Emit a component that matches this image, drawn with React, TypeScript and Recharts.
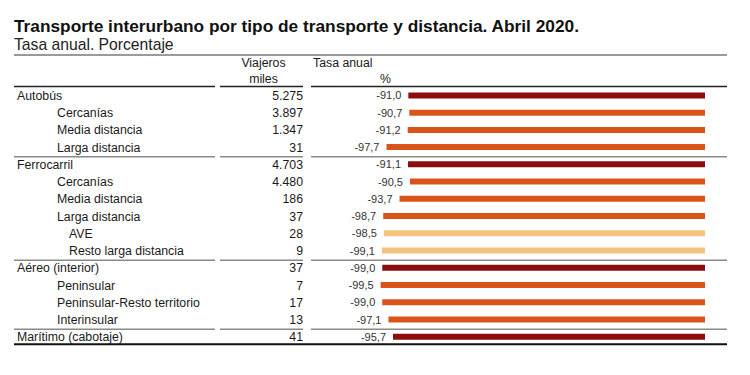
import React from 'react';
import { BarChart, Bar, XAxis, YAxis, Cell, LabelList } from 'recharts';

const title = 'Transporte interurbano por tipo de transporte y distancia. Abril 2020.';
const subtitle = 'Tasa anual. Porcentaje';
const headerViajeros = ['Viajeros', 'miles'];
const headerTasa = ['Tasa anual', '%'];

const categories = [
  'Autobús', 'Cercanías', 'Media distancia', 'Larga distancia',
  'Ferrocarril', 'Cercanías', 'Media distancia', 'Larga distancia', 'AVE', 'Resto larga distancia',
  'Aéreo (interior)', 'Peninsular', 'Peninsular-Resto territorio', 'Interinsular',
  'Marítimo (cabotaje)',
];
const levels = [0, 1, 1, 1, 0, 1, 1, 1, 2, 2, 0, 1, 1, 1, 0];
const viajeros = ['5.275', '3.897', '1.347', '31', '4.703', '4.480', '186', '37', '28', '9', '37', '7', '17', '13', '41'];
const tasaAnual = [-91.0, -90.7, -91.2, -97.7, -91.1, -90.5, -93.7, -98.7, -98.5, -99.1, -99.0, -99.5, -99.0, -97.1, -95.7];

const data = categories.map((c, i) => ({ id: String(i), name: c, value: tasaAnual[i] }));

const FONT = '"Liberation Sans", Arial, sans-serif';
const levelColors = ['#8C0D0D', '#DA5419', '#F6C27F'];
const levelX = [17, 57, 69];
const TEXT = '#1a1a1a';

const segs = [[14, 215], [220, 303], [311, 727]];

const RowLabel = (props: any) => {
  const { y, height, index } = props;
  const i = Number(index);
  const cy = Number(y) + Number(height) / 2;
  const lvl = levels[i];
  const isLast = i === categories.length - 1;
  return (
    <g>
      {i > 0 && lvl === 0 &&
        segs.map((s, k) => (
          <line key={k} x1={s[0]} x2={s[1]} y1={cy - 7.5} y2={cy - 7.5} stroke="#8a8a8a" strokeWidth={1.5} />
        ))}
      {isLast && <line x1={14} x2={727} y1={cy + 7.5} y2={cy + 7.5} stroke="#111" strokeWidth={2} />}
      <text x={levelX[lvl]} y={cy + 4.5} fontFamily={FONT} fontSize={12.3} fill={TEXT}>
        {categories[i]}
      </text>
      <text x={303} y={cy + 4.5} fontFamily={FONT} fontSize={12.3} fill={TEXT} textAnchor="end">
        {viajeros[i]}
      </text>
    </g>
  );
};

const ValueLabel = (props: any) => {
  const { x, y, width, height, value } = props;
  const left = Math.min(Number(x), Number(x) + Number(width));
  const cy = Number(y) + Number(height) / 2;
  return (
    <text x={left - 7} y={cy + 4} fontFamily={FONT} fontSize={11} fill="#333" textAnchor="end">
      {Number(value).toFixed(1).replace('.', ',')}
    </text>
  );
};

export default function App() {
  return (
    <div style={{ position: 'absolute', left: 0, top: 0, width: 750, height: 375, background: '#fff' }}>
      <svg width={750} height={375} style={{ position: 'absolute', left: 0, top: 0 }}>
        <text x={14} y={31.5} fontFamily={FONT} fontSize={17.3} fontWeight="bold" fill="#111">{title}</text>
        <text x={14} y={50} fontFamily={FONT} fontSize={15.7} fill="#222">{subtitle}</text>
        <line x1={14} x2={727} y1={55} y2={55} stroke="#9a9a9a" strokeWidth={2} />
        <text x={263.5} y={67} fontFamily={FONT} fontSize={12.3} fill={TEXT} textAnchor="middle">{headerViajeros[0]}</text>
        <text x={263.5} y={82.5} fontFamily={FONT} fontSize={12.3} fill={TEXT} textAnchor="middle">{headerViajeros[1]}</text>
        <text x={313} y={67} fontFamily={FONT} fontSize={12.3} fill={TEXT}>{headerTasa[0]}</text>
        <text x={385.5} y={82.5} fontFamily={FONT} fontSize={12.3} fill={TEXT} textAnchor="middle">{headerTasa[1]}</text>
        {segs.map((s, k) => (
          <line key={k} x1={s[0]} x2={s[1]} y1={86.4} y2={86.4} stroke="#222" strokeWidth={1.5} />
        ))}
      </svg>
      <div style={{ position: 'absolute', left: 0, top: 0 }}>
        <BarChart
          width={750}
          height={375}
          data={data}
          layout="vertical"
          margin={{ top: 86.4, bottom: 30, left: 379, right: 45 }}
          barCategoryGap={0}
        >
          <XAxis type="number" domain={[-100, 0]} hide allowDataOverflow />
          <YAxis type="category" dataKey="id" width={0} hide />
          <Bar dataKey="value" barSize={6} isAnimationActive={false}>
            {data.map((d, i) => (
              <Cell key={i} fill={levelColors[levels[i]]} />
            ))}
            <LabelList dataKey="value" content={<ValueLabel />} />
            <LabelList dataKey="id" content={<RowLabel />} />
          </Bar>
        </BarChart>
      </div>
    </div>
  );
}
